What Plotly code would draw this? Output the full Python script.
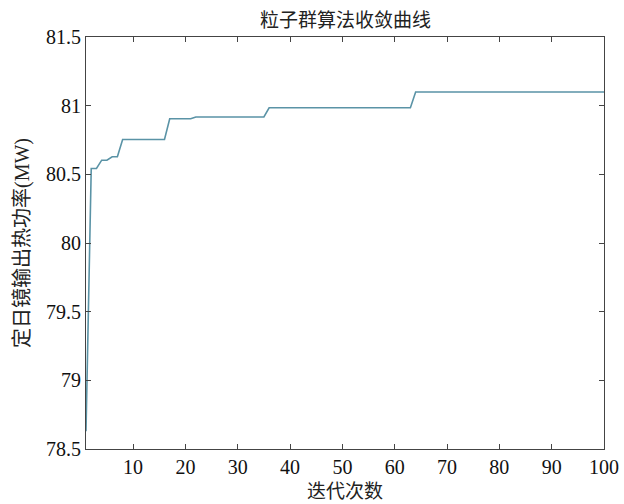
import plotly.graph_objects as go

iterations = list(range(1, 101))
step_iters = [1, 2, 4, 6, 8, 17, 22, 36, 64]
step_vals = [78.63, 80.543, 80.603, 80.628, 80.754, 80.905, 80.918, 80.985, 81.099]
x_ticks = [10, 20, 30, 40, 50, 60, 70, 80, 90, 100]
y_ticks = [78.5, 79, 79.5, 80, 80.5, 81, 81.5]
y_labels = ["78.5", "79", "79.5", "80", "80.5", "81", "81.5"]
title = "粒子群算法收敛曲线"
x_title = "迭代次数"
y_title = "定日镜输出热功率(MW)"

# best-so-far value at each iteration (held between improvements)
best = []
for it in iterations:
    v = step_vals[0]
    for si, sv in zip(step_iters, step_vals):
        if it >= si:
            v = sv
    best.append(v)

fig = go.Figure()
fig.add_trace(go.Scatter(x=iterations, y=best, mode="lines",
                         line=dict(color="#5a93a6", width=1.6), showlegend=False))

serif = "'Liberation Serif', 'Times New Roman', serif"
axis_common = dict(showline=True, linecolor="#444", linewidth=1, mirror="allticks",
                   ticks="inside", ticklen=5, tickcolor="#444", showgrid=False, zeroline=False,
                   automargin=False,
                   tickfont=dict(family=serif, size=20, color="#111"))
fig.update_layout(
    width=624, height=504,
    margin=dict(l=86, r=20, t=37, b=55),
    paper_bgcolor="white", plot_bgcolor="white",
    xaxis=dict(range=[1, 100], tickvals=x_ticks, ticklabelstandoff=0, **axis_common),
    yaxis=dict(range=[78.5, 81.5], tickvals=y_ticks, ticktext=y_labels, **axis_common),
    annotations=[
        dict(text=title, x=0.5, y=1, xref="paper", yref="paper", xanchor="center", yanchor="middle",
             yshift=19, showarrow=False,
             font=dict(family="'Noto Sans CJK SC'", size=19, color="#222")),
        dict(text=x_title, x=0.5, y=0, xref="paper", yref="paper", xanchor="center", yanchor="middle",
             yshift=-40, showarrow=False,
             font=dict(family="'Noto Sans CJK SC'", size=19, color="#222")),
        dict(text=y_title, x=0, y=0.5, xref="paper", yref="paper", xanchor="center", yanchor="middle",
             xshift=-64, textangle=-90,
             showarrow=False, font=dict(family="'Liberation Serif', 'Noto Sans CJK SC'", size=20, color="#222")),
    ],
)
fig.write_html("out.html")
